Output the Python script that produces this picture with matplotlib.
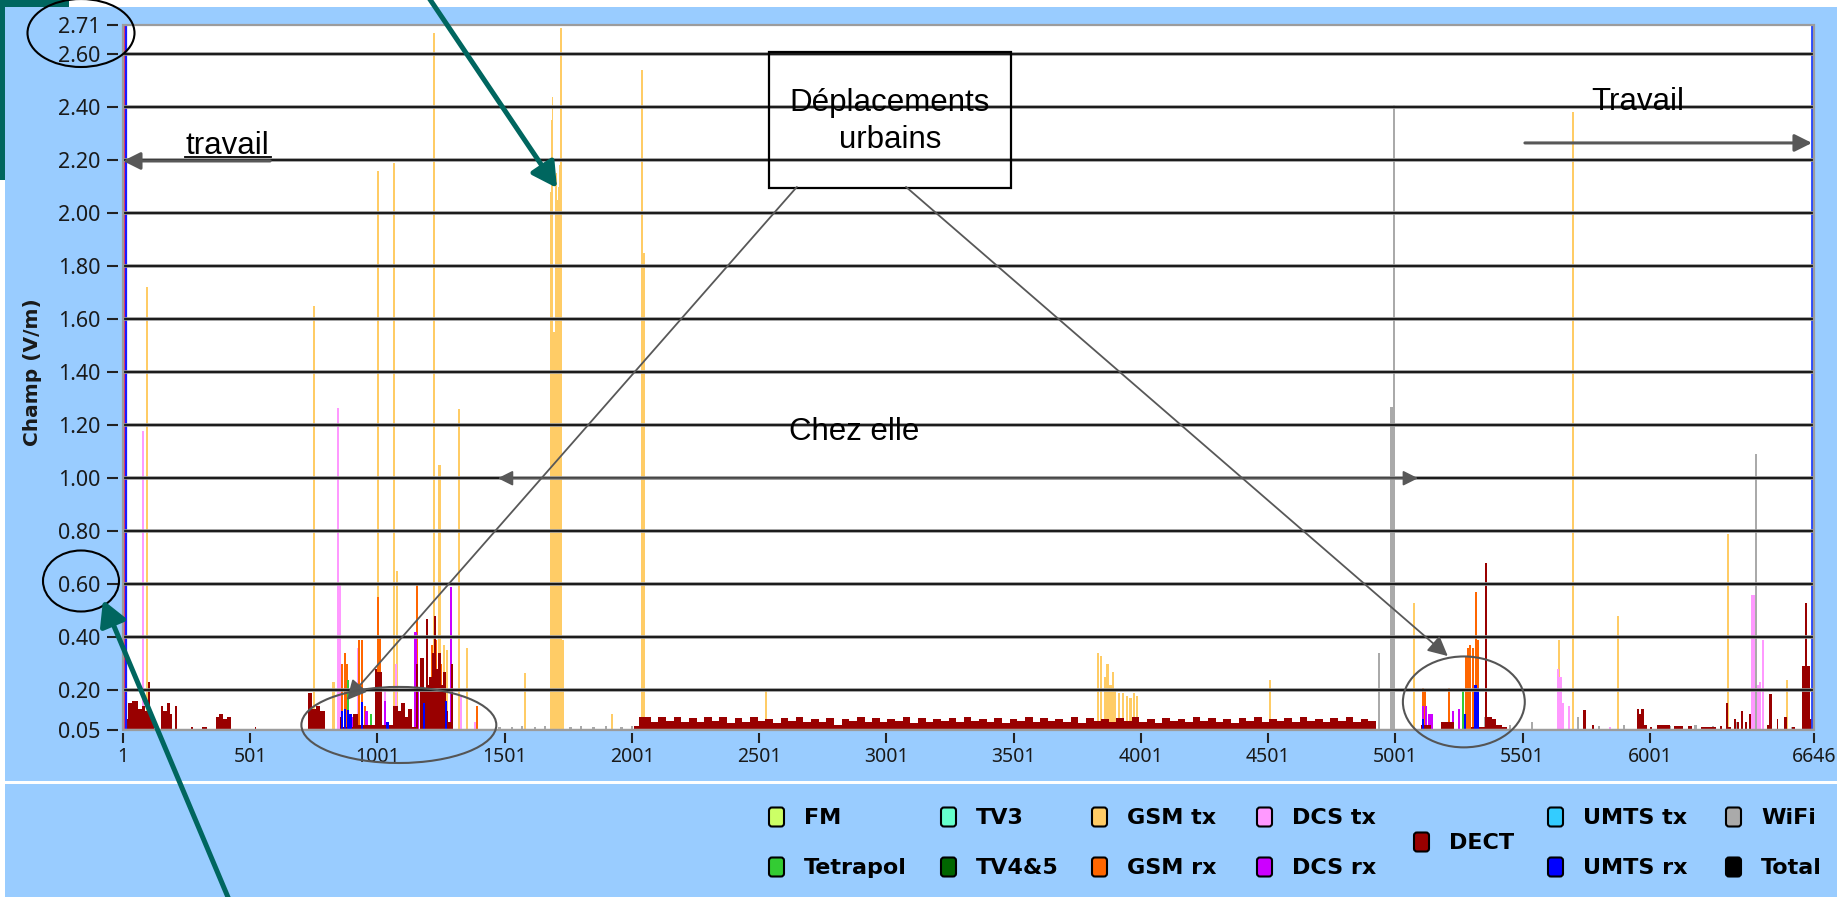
import numpy as np
import matplotlib
matplotlib.use("Agg")
import matplotlib.pyplot as plt
from matplotlib.patches import Rectangle, Ellipse, FancyBboxPatch

W, H = 1837, 897
BG = "#99ccff"
TEAL = "#00665f"
ARROW_GREY = "#585858"

# ---------------- axes description ----------------
X_MIN, X_MAX = 1, 6646
Y_MIN, Y_MAX = 0.05, 2.71
x_ticks = [1, 501, 1001, 1501, 2001, 2501, 3001, 3501, 4001, 4501, 5001, 5501, 6001, 6646]
y_ticks = [0.05, 0.20, 0.40, 0.60, 0.80, 1.00, 1.20, 1.40, 1.60, 1.80, 2.00,
           2.20, 2.40, 2.60, 2.71]
y_grid = [0.20, 0.40, 0.60, 0.80, 1.00, 1.20, 1.40, 1.60, 1.80, 2.00, 2.20, 2.40, 2.60]

legend_row1 = ["FM", "TV3", "GSM tx", "DCS tx", "UMTS tx", "WiFi"]
legend_row2 = ["Tetrapol", "TV4&5", "GSM rx", "DCS rx", "UMTS rx", "Total"]
colors = {
    "FM": "#ccff66", "Tetrapol": "#33cc33", "TV3": "#66ffcc", "TV4&5": "#006600",
    "GSM tx": "#ffcc66", "GSM rx": "#ff6600", "DCS tx": "#ff99ff", "DCS rx": "#cc00ff",
    "DECT": "#990000", "UMTS tx": "#33ccff", "UMTS rx": "#0000ff", "WiFi": "#aaaaaa",
    "Total": "#000000",
}

# ---------------- measurements (sample index, field in V/m) ----------------
gsm_tx_s = [95, 752, 828, 1003, 1066, 1078, 1223, 1245, 1262, 1275, 1322, 1352, 1580,
            1728, 1922, 2040, 2046,
            2528, 3832, 3845, 3860, 3870, 3882, 3892, 3900, 3915, 3930, 3945, 3960,
            3975, 3985, 4508, 5074, 5644, 5699, 5875, 6307, 6539]
gsm_tx_v = [1.72, 1.65, 0.23, 2.16, 2.19, 0.65, 2.68, 1.05, 0.37, 0.35, 1.26, 0.36, 0.265,
            0.39, 0.11, 2.54, 1.85,
            0.20, 0.34, 0.33, 0.25, 0.30, 0.22, 0.27, 0.20, 0.19, 0.19, 0.18, 0.17,
            0.19, 0.18, 0.24, 0.53, 0.39, 2.38, 0.48, 0.79, 0.24]
# dense burst of GSM tx readings around sample 1700
gsm_tx_burst_s = [1680, 1684, 1688, 1692, 1696, 1700, 1704, 1708, 1712, 1716, 1720, 1724]
gsm_tx_burst_v = [2.08, 2.35, 2.44, 1.55, 1.55, 2.12, 2.15, 2.05, 2.10, 2.18, 2.70, 2.70]

gsm_rx_s = [862, 872, 880, 928, 940, 952, 1003, 1010, 1157, 1215, 1230, 1250, 1392,
            5109, 5115, 5212, 5266, 5278, 5285, 5295, 5305, 5318, 5325, 6640]
gsm_rx_v = [0.30, 0.34, 0.30, 0.39, 0.39, 0.14, 0.55, 0.40, 0.60, 0.37, 0.39, 0.30, 0.14,
            0.21, 0.20, 0.21, 0.20, 0.33, 0.36, 0.37, 0.36, 0.57, 0.39, 0.07]

dcs_tx_s = [80, 846, 852, 926, 1030, 1074, 1290, 1330, 1386, 5640, 5650, 5660, 5683,
            5844, 6404, 6410, 6426, 6434, 6446]
dcs_tx_v = [1.18, 1.265, 0.60, 0.36, 0.20, 0.30, 0.22, 0.18, 0.08, 0.28, 0.25, 0.15,
            0.14, 0.06, 0.56, 0.56, 0.22, 0.23, 0.39]

dcs_rx_s = [905, 958, 1030, 1150, 1158, 1265, 1290, 5109, 5120, 5135, 5145, 5228, 5250]
dcs_rx_v = [0.10, 0.12, 0.16, 0.42, 0.20, 0.25, 0.59, 0.14, 0.14, 0.11, 0.11, 0.12, 0.13]

tetrapol_s = [885, 975, 5268]
tetrapol_v = [0.24, 0.11, 0.20]

umts_rx_s = [862, 872, 884, 895, 940, 1040, 1184, 1270, 5109, 5274, 5316, 5324]
umts_rx_v = [0.12, 0.13, 0.125, 0.11, 0.155, 0.08, 0.15, 0.16, 0.09, 0.11, 0.22, 0.21]

wifi_s = [1480, 1530, 1570, 1620, 1660, 1760, 1800, 1850, 1900, 1960, 2000,
          4936, 4983, 4987, 4995, 5353, 5450, 5537, 5718, 5800, 5900, 6080, 6180,
          6250, 6345, 6418, 6560]
wifi_v = [0.06, 0.06, 0.065, 0.06, 0.065, 0.06, 0.065, 0.06, 0.065, 0.06, 0.065,
          0.34, 1.27, 1.27, 2.41, 0.10, 0.07, 0.08, 0.10, 0.065, 0.07, 0.065, 0.07,
          0.065, 0.08, 1.09, 0.06]

# DECT is a step signal: value held between consecutive edges
dect_edges = [8, 20, 38, 59, 75, 87, 98, 106, 122, 150, 160, 172, 184, 193, 206, 212,
              268, 277, 312, 333, 368, 380, 395, 410, 424, 520, 525,
              728, 744, 760, 776, 796, 853, 860, 905, 925, 990, 1000, 1018, 1062,
              1080, 1092, 1110, 1120, 1136, 1154, 1160, 1168, 1182, 1190, 1198, 1205,
              1214, 1222, 1230, 1240, 1250, 1258, 1270, 1280, 1290, 1298, 2010, 2030,
              2045]
dect_vals = [0.09, 0.15, 0.16, 0.13, 0.14, 0.12, 0.23, 0.10, 0.05, 0.14, 0.12, 0.15,
             0.11, 0.05, 0.14, 0.05, 0.06, 0.05, 0.06, 0.05, 0.10, 0.11, 0.09, 0.10,
             0.05, 0.06, 0.05,
             0.19, 0.13, 0.14, 0.12, 0.05, 0.10, 0.06, 0.11, 0.07, 0.28, 0.27, 0.07,
             0.14, 0.12, 0.15, 0.10, 0.13, 0.06, 0.30, 0.05, 0.32, 0.20, 0.47, 0.22,
             0.25, 0.34, 0.48, 0.28, 0.34, 0.22, 0.27, 0.12, 0.08, 0.30, 0.05, 0.065,
             0.10]
# long low-level stretch, one value every 30 samples from sample 2045
dect_band_start = 2045
dect_band_step = 30
dect_band_vals = [
    0.10, 0.08, 0.10, 0.085, 0.10, 0.08, 0.095, 0.08, 0.10, 0.085, 0.10, 0.075,
    0.095, 0.08, 0.10, 0.085, 0.09, 0.075, 0.095, 0.085, 0.10, 0.08, 0.09, 0.08,
    0.095, 0.07, 0.09, 0.085, 0.10, 0.08, 0.095, 0.08, 0.09, 0.085, 0.10, 0.075,
    0.095, 0.08, 0.09, 0.085, 0.095, 0.08, 0.10, 0.085, 0.09, 0.08, 0.095, 0.075,
    0.09, 0.085, 0.10, 0.08, 0.095, 0.085, 0.09, 0.08, 0.10, 0.075, 0.095, 0.085,
    0.09, 0.08, 0.095, 0.085, 0.10, 0.08, 0.09, 0.075, 0.095, 0.085, 0.09, 0.08,
    0.10, 0.085, 0.095, 0.08, 0.09, 0.075, 0.095, 0.085, 0.10, 0.08, 0.09, 0.085,
    0.095, 0.08, 0.10, 0.085, 0.09, 0.08, 0.095, 0.085, 0.10, 0.08, 0.09, 0.085]
dect_tail_edges = [5100, 5140, 5180, 5230, 5300, 5352, 5362, 5380, 5395, 5420, 5440,
                   5740, 5750, 5775, 5782, 5950, 5958, 5966, 5976, 5990, 6000, 6010,
                   6030, 6080, 6095, 6130, 6150, 6165, 6200, 6260, 6275, 6285, 6300,
                   6308, 6320, 6330, 6338, 6345, 6352, 6360, 6368, 6375, 6382, 6390,
                   6398, 6460, 6470, 6480, 6500, 6505, 6530, 6540, 6560, 6570, 6600,
                   6612, 6618, 6630, 6646]
dect_tail_vals = [0.07, 0.05, 0.08, 0.05, 0.06, 0.68, 0.10, 0.09, 0.07, 0.06,
                  0.05, 0.125, 0.05, 0.07, 0.05, 0.13, 0.11, 0.13, 0.07, 0.05, 0.06,
                  0.05, 0.07, 0.05, 0.065, 0.05, 0.065, 0.05, 0.06, 0.05, 0.065, 0.05,
                  0.15, 0.06, 0.05, 0.09, 0.05, 0.08, 0.05, 0.12, 0.05, 0.08, 0.05,
                  0.11, 0.05, 0.07, 0.185, 0.05, 0.09, 0.05, 0.10, 0.05, 0.06, 0.05,
                  0.29, 0.53, 0.29, 0.09]

SPIKE_W = 9  # bar width in samples (a little over 2 px)

fig = plt.figure(figsize=(W / 100, H / 100), dpi=100, facecolor=BG)
ax = fig.add_axes([123 / W, 1 - 730 / H, (1814 - 123) / W, (730 - 25) / H])
ax.set_facecolor("white")
ax.set_xlim(X_MIN, X_MAX)
ax.set_ylim(Y_MIN, Y_MAX)


def spikes(s, v, name, width=SPIKE_W, z=2):
    s = np.asarray(s, float)
    v = np.asarray(v, float)
    ax.bar(s, v - Y_MIN, bottom=Y_MIN, width=width, color=colors[name],
           linewidth=0, zorder=z, align="center")


spikes(gsm_tx_s, gsm_tx_v, "GSM tx", z=1.2)
spikes(gsm_tx_burst_s, gsm_tx_burst_v, "GSM tx", width=4, z=1.2)
spikes(wifi_s, wifi_v, "WiFi", z=1.3)
spikes(dcs_tx_s, dcs_tx_v, "DCS tx", z=1.4)
spikes(gsm_rx_s, gsm_rx_v, "GSM rx", z=1.5)
spikes(dcs_rx_s, dcs_rx_v, "DCS rx", z=1.6)
spikes(tetrapol_s, tetrapol_v, "Tetrapol", z=1.7)

band_edges = dect_band_start + dect_band_step * np.arange(len(dect_band_vals) + 1)
ax.stairs(dect_vals, dect_edges, baseline=Y_MIN, fill=True, color=colors["DECT"], zorder=1.8)
ax.stairs(dect_band_vals, band_edges, baseline=Y_MIN, fill=True, color=colors["DECT"], zorder=1.8)
ax.stairs(dect_tail_vals, dect_tail_edges, baseline=Y_MIN, fill=True, color=colors["DECT"], zorder=1.8)
spikes(umts_rx_s, umts_rx_v, "UMTS rx", z=1.9)

# cursors at both ends of the record
ax.axvline(X_MIN + 3, color="#ff3355", lw=1.6, zorder=3)
ax.axvline(X_MIN + 12, color="#1a1aff", lw=1.6, zorder=3)
ax.axvline(X_MAX - 6, color="#2244ff", lw=2.0, zorder=3)

for g in y_grid:
    ax.axhline(g, color="#9a9a9a", lw=2.6, zorder=3.9)
    ax.axhline(g, color="#1c1c1c", lw=1.5, zorder=4)
ax.axhline(Y_MIN, color="#b4b4b4", lw=2.4, zorder=4)
ax.add_patch(Rectangle((0, 0), 1, 1, transform=ax.transAxes, fill=False,
                       ec="#9c9c9c", lw=1.6, zorder=6, clip_on=False))

for sp in ax.spines.values():
    sp.set_visible(False)
ax.spines["left"].set_position(("outward", 3.6))
ax.spines["bottom"].set_position(("outward", 2.2))
ax.set_xticks(x_ticks)
ax.set_xticklabels([str(t) for t in x_ticks])
ax.set_yticks(y_ticks)
ax.set_yticklabels([f"{t:.2f}" for t in y_ticks])
ax.tick_params(axis="y", length=8, width=1.5, color="#222222", pad=4.5,
               labelsize=15.5, labelcolor="#1a1a1a")
ax.tick_params(axis="x", length=7, width=1.5, color="#222222", pad=3,
               labelsize=14, labelcolor="#1a1a1a")
for lab in ax.get_xticklabels() + ax.get_yticklabels():
    lab.set_fontfamily("Noto Sans")

fig.text(33 / W, 1 - 372 / H, "Champ (V/m)", rotation=90, ha="center", va="center",
         fontsize=14.5, fontweight="bold", color="#1a1a1a", family="DejaVu Sans")

# ---------------- annotations in data space ----------------
TXT = dict(family="Liberation Sans", fontsize=22.5, color="black", zorder=8)
ax.text(410, 2.222, "travail", ha="center", va="baseline", **TXT)
ax.plot([244, 582], [2.212, 2.212], color="black", lw=1.3, zorder=8)
ax.annotate("", xy=(1, 2.197), xytext=(579, 2.197),
            arrowprops=dict(arrowstyle="-|>,head_length=0.7,head_width=0.35",
                            color=ARROW_GREY, lw=2.2, mutation_scale=15,
                            shrinkA=0, shrinkB=0), zorder=8)
ax.text(5954, 2.39, "Travail", ha="center", va="baseline", **TXT)
ax.annotate("", xy=(6638, 2.265), xytext=(5510, 2.265),
            arrowprops=dict(arrowstyle="-|>,head_length=0.7,head_width=0.35",
                            color=ARROW_GREY, lw=2.2, mutation_scale=15,
                            shrinkA=0, shrinkB=0), zorder=8)
ax.add_patch(Rectangle((2539, 2.095), 951, 0.513, fill=False, ec="black", lw=1.6, zorder=8))
ax.text(3015, 2.416, "Déplacements", ha="center", va="center", **TXT)
ax.text(3015, 2.276, "urbains", ha="center", va="center", **TXT)
for tip, tail in [((881, 0.163), (2649, 2.099)), ((5207, 0.329), (3078, 2.099))]:
    ax.annotate("", xy=tip, xytext=tail,
                arrowprops=dict(arrowstyle="-|>,head_length=0.8,head_width=0.4",
                                color=ARROW_GREY, lw=1.3, mutation_scale=15,
                                shrinkA=0, shrinkB=0), zorder=8)
ax.annotate("", xy=(1474, 1.00), xytext=(5090, 1.00),
            arrowprops=dict(arrowstyle="<|-|>,head_length=0.6,head_width=0.3",
                            color=ARROW_GREY, lw=1.3, mutation_scale=15,
                            shrinkA=0, shrinkB=0), zorder=8)
ax.text(2873, 1.174, "Chez elle", ha="center", va="center", **TXT)
ax.add_patch(Ellipse((1085, 0.069), 766, 0.287, fill=False, ec="#555555", lw=1.5,
                     zorder=8, clip_on=False))
ax.add_patch(Ellipse((5270, 0.156), 479, 0.343, fill=False, ec="#555555", lw=1.5,
                     zorder=8, clip_on=False))

# ---------------- page furniture in pixel space ----------------
ov = fig.add_axes([0, 0, 1, 1])
ov.set_xlim(0, W)
ov.set_ylim(H, 0)
ov.axis("off")
ov.set_zorder(10)
ov.add_patch(Rectangle((0, 0), W, 7, color="white", lw=0))
ov.add_patch(Rectangle((0, 0), 69, 7, color=TEAL, lw=0))
ov.add_patch(Rectangle((0, 0), 5, 180, color=TEAL, lw=0))
ov.add_patch(Rectangle((0, 180), 5, H - 180, color="white", lw=0))
ov.add_patch(Rectangle((5, 781), W, 3.5, color="white", lw=0))

ov.add_patch(Ellipse((81, 33), 107, 68, fill=False, ec="black", lw=1.5))
ov.add_patch(Ellipse((81, 581), 76, 61, fill=False, ec="black", lw=1.5))
for tip, tail in [((557, 188), (427, -5)), ((103, 600), (230, 902))]:
    ov.annotate("", xy=tip, xytext=tail, xycoords="data",
                arrowprops=dict(arrowstyle="-|>,head_length=1.0,head_width=0.55",
                                color=TEAL, lw=3.6, mutation_scale=15,
                                shrinkA=0, shrinkB=0))

# legend
col_x = [769, 941, 1092, 1257, 1548, 1726]
row_y = [817, 867]
MW, MH = 15, 19
LEG = dict(family="DejaVu Sans", fontweight="bold", fontsize=16, color="black",
           va="center", ha="left")


def legend_item(x, y, name):
    ov.add_patch(FancyBboxPatch((x, y - MH / 2), MW, MH,
                                boxstyle="round,pad=0,rounding_size=3",
                                fc=colors[name], ec="black", lw=1.5))
    ov.text(x + MW + 20, y + 1, name, **LEG)


for cx, n1, n2 in zip(col_x, legend_row1, legend_row2):
    legend_item(cx, row_y[0], n1)
    legend_item(cx, row_y[1], n2)
legend_item(1414, (row_y[0] + row_y[1]) / 2, "DECT")

fig.savefig("out.png", dpi=100, facecolor=BG)
